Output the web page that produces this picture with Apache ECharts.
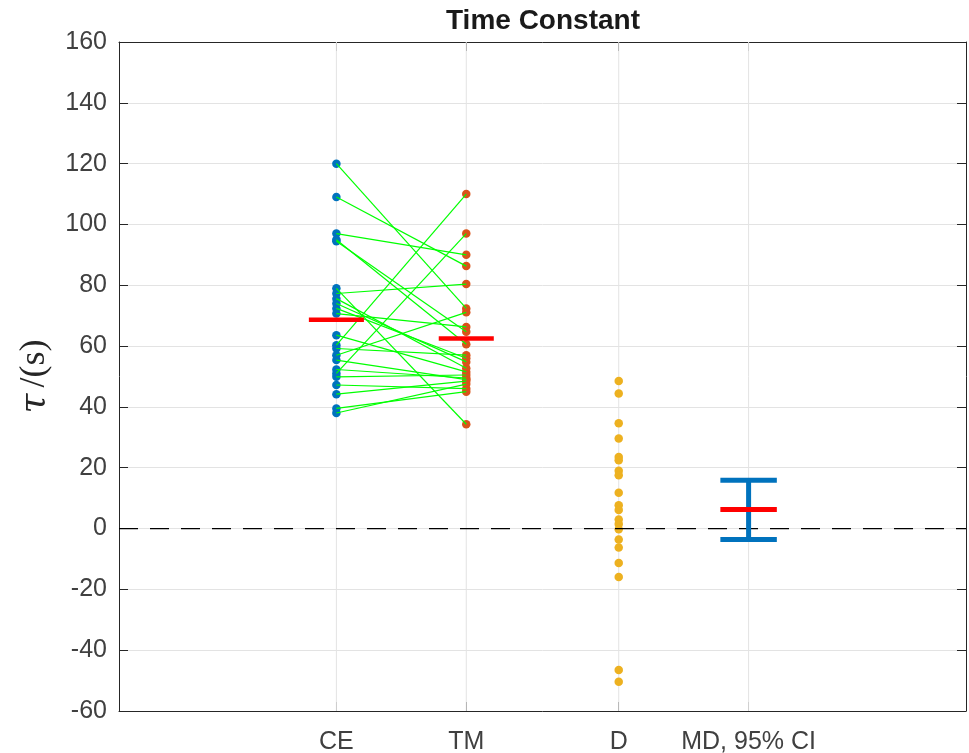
<!DOCTYPE html>
<html><head><meta charset="utf-8">
<script src="https://cdn.jsdelivr.net/npm/echarts@6/dist/echarts.min.js"></script>
<style>html,body{margin:0;padding:0;background:#fff}#c{width:969px;height:753px}</style>
</head><body><div id="c"></div>
<script>
// ---- data ----
const categories = ['CE', 'TM', 'D', 'MD, 95% CI'];
const catX = [1.54, 2.46, 3.54, 4.46];
const ceValues = [120, 109, 97, 95, 94.5, 79, 77.3, 75.6, 74, 72.4, 70.7, 63.6, 60.3, 59.2, 57, 55.4, 52.3, 51, 49.9, 47.2, 44.2, 39.5, 38];
const tmValues = [72.4, 86.3, 90, 60.6, 64.7, 34.3, 80.4, 52.7, 54.8, 56, 66.3, 51.5, 110, 57, 71.1, 49, 49.5, 97, 50.5, 46, 48.5, 45, 47.5];
const dValues = [48.5, 44.4, 34.6, 29.6, 23.5, 22.5, 19, 17.5, 11.8, 7.7, 6.1, 3.0, 1.5, -0.2, -3.6, -6.2, -11.3, -15.9, -46.5, -50.4];
const groupMeans = [68.7, 62.5];
const mdStats = [6.3, -3.6, 15.9]; // mean, lower CI, upper CI
const yMin = -60, yMax = 160, yStep = 20;

// ---- chart ----
const FONT = "'Liberation Sans', Arial, Helvetica, sans-serif";
const AX = '#262626';
const TXT = '#404040';
const GRID = '#e3e3e3';
const halfW = 0.195, capW = 0.2;

const series = [];
// vertical grid lines at category positions
catX.forEach(x => series.push({
  type: 'line', silent: true, symbol: 'none', z: 0,
  lineStyle: {color: GRID, width: 1},
  data: [[x, yMin], [x, yMax]]
}));
series.push({type: 'scatter', symbolSize: 8.5, z: 2, itemStyle: {color: '#0072BD', opacity: 1},
  data: ceValues.map(v => [catX[0], v])});
series.push({type: 'scatter', symbolSize: 8.5, z: 2, itemStyle: {color: '#D95319', opacity: 1},
  data: tmValues.map(v => [catX[1], v])});
series.push({type: 'scatter', symbolSize: 8.5, z: 2, itemStyle: {color: '#EDB120', opacity: 1},
  data: dValues.map(v => [catX[2], v])});
ceValues.forEach((v, i) => series.push({
  type: 'line', silent: true, symbol: 'none', z: 3,
  lineStyle: {color: '#00FF00', width: 1.2},
  data: [[catX[0], v], [catX[1], tmValues[i]]]
}));
groupMeans.forEach((m, i) => series.push({
  type: 'line', silent: true, symbol: 'none', z: 5,
  lineStyle: {color: '#FF0000', width: 4.5},
  data: [[catX[i] - halfW, m], [catX[i] + halfW, m]]
}));
// zero dashed line
series.push({type: 'line', silent: true, symbol: 'none', z: 3,
  lineStyle: {color: '#000', width: 1.2, type: [19, 12]},
  data: [[0, 0], [6, 0]]});
// error bar
const xm = catX[3];
[[[xm, mdStats[1]], [xm, mdStats[2]]],
 [[xm - capW, mdStats[2]], [xm + capW, mdStats[2]]],
 [[xm - capW, mdStats[1]], [xm + capW, mdStats[1]]]].forEach(d => series.push({
  type: 'line', silent: true, symbol: 'none', z: 4,
  lineStyle: {color: '#0072BD', width: 5, cap: 'butt'}, data: d
}));
series.push({type: 'line', silent: true, symbol: 'none', z: 6,
  lineStyle: {color: '#FF0000', width: 5},
  data: [[xm - capW, mdStats[0]], [xm + capW, mdStats[0]]]});

const labelFor = v => {
  let best = 0;
  catX.forEach((x, i) => { if (Math.abs(x - v) < Math.abs(catX[best] - v)) best = i; });
  return categories[best];
};

const axLine = {show: true, onZero: false, lineStyle: {color: AX, width: 1}};
const option = {
  animation: false,
  backgroundColor: '#fff',
  title: {
    text: 'Time Constant', left: 538, top: 2, textAlign: 'center',
    textStyle: {fontFamily: FONT, fontSize: 28, fontWeight: 'bold', color: '#1a1a1a'}
  },
  grid: {left: 119, right: 3, top: 42, bottom: 42, containLabel: false, outerBoundsMode: 'none'},
  xAxis: [{
    type: 'value', min: 0, max: 6, position: 'bottom',
    axisLine: axLine,
    axisTick: {show: true, inside: true, length: 9, customValues: catX, lineStyle: {color: AX}},
    axisLabel: {show: true, customValues: catX, formatter: labelFor, fontFamily: FONT, fontSize: 25, color: TXT, margin: 19},
    splitLine: {show: false}
  }, {
    type: 'value', min: 0, max: 6, position: 'top',
    axisLine: axLine,
    axisTick: {show: true, inside: true, length: 9, customValues: catX, lineStyle: {color: AX}},
    axisLabel: {show: false},
    splitLine: {show: false}
  }],
  yAxis: [{
    type: 'value', min: yMin, max: yMax, interval: yStep, position: 'left',
    name: '{t|τ}{s|/(s)}', nameLocation: 'middle', nameGap: 66, nameRotate: 90,
    nameTextStyle: {rich: {
      t: {fontFamily: "'DejaVu Serif', 'Liberation Serif', serif", fontStyle: 'italic', fontSize: 36, color: '#262626', padding: [0, 6, 0, 0]},
      s: {fontFamily: "'Liberation Serif', 'DejaVu Serif', serif", fontSize: 36, color: '#262626'}
    }},
    axisLine: axLine,
    axisTick: {show: true, inside: true, length: 9, lineStyle: {color: AX}},
    axisLabel: {fontFamily: FONT, fontSize: 25, color: TXT, margin: 12},
    splitLine: {show: true, lineStyle: {color: GRID, width: 1}}
  }, {
    type: 'value', min: yMin, max: yMax, interval: yStep, position: 'right',
    axisLine: axLine,
    axisTick: {show: true, inside: true, length: 9, lineStyle: {color: AX}},
    axisLabel: {show: false},
    splitLine: {show: false}
  }],
  series: series
};
const chart = echarts.init(document.getElementById('c'), null, {renderer: 'canvas'});
chart.setOption(option);
</script>
</body></html>
